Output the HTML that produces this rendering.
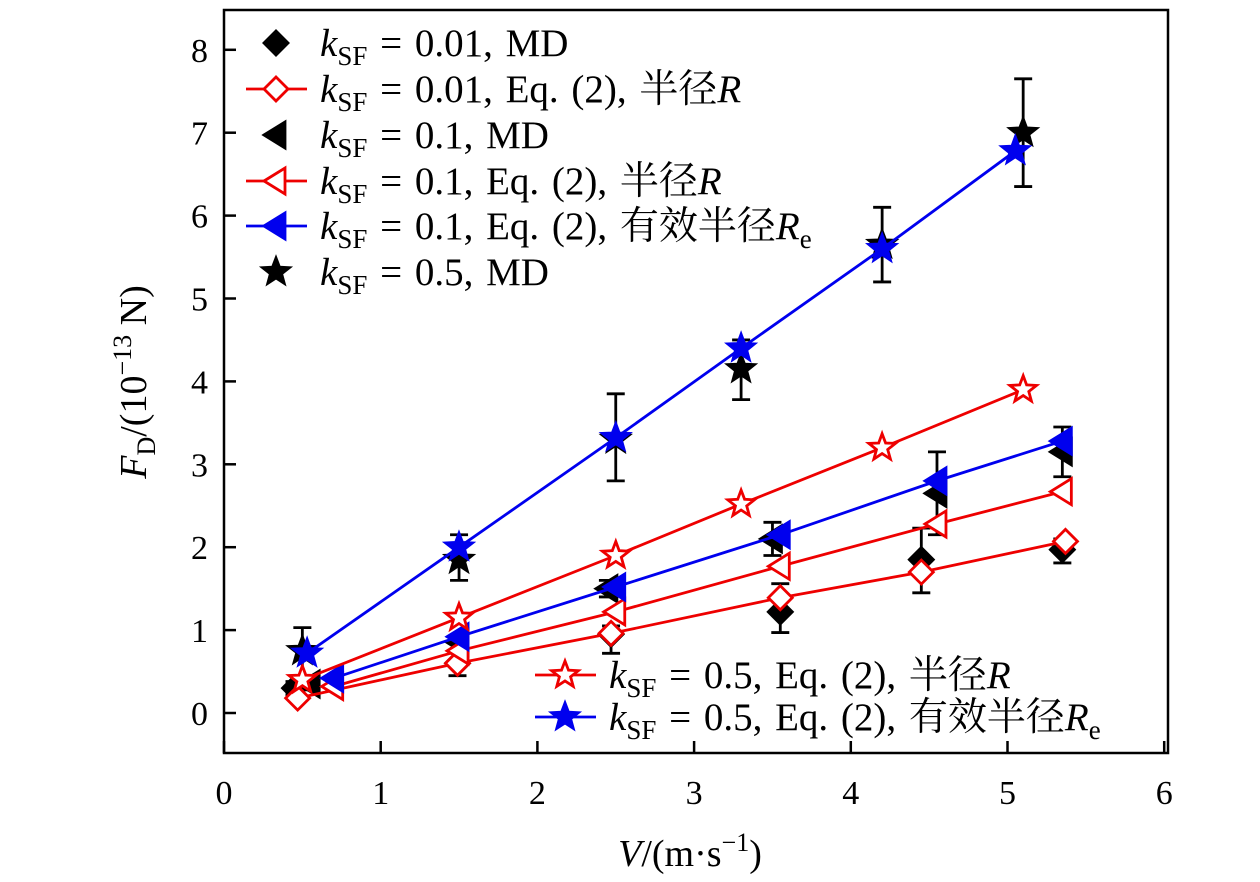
<!DOCTYPE html>
<html><head><meta charset="utf-8"><style>
body{margin:0;background:#fff;}
svg{display:block;}
text{font-family:"Liberation Serif","Noto Serif CJK SC",serif;fill:#000;}
</style></head><body>
<svg id="c" width="1260" height="882" xmlns="http://www.w3.org/2000/svg">
<rect x="224" y="10" width="944" height="743" fill="none" stroke="#000" stroke-width="2.5"/>
<g id="axes"></g>
<g id="marks"></g>
<g id="legend"></g>
<text x="690" y="866" font-size="38" text-anchor="middle"><tspan font-style="italic">V</tspan>/(m·s<tspan dy="-15" font-size="26">−1</tspan><tspan dy="15">)</tspan></text>
<text transform="translate(146,382) rotate(-90)" font-size="38" text-anchor="middle"><tspan font-style="italic">F</tspan><tspan dy="9" font-size="26">D</tspan><tspan dy="-9">/(10</tspan><tspan dy="-15" font-size="26">−13</tspan><tspan dy="15"> N)</tspan></text>
</svg>
<script>
const xTicks=[0,1,2,3,4,5,6];
const yTicks=[0,1,2,3,4,5,6,7,8];
// k=0.01
const x001=[0.45,1.49,2.47,3.55,4.45,5.35];
const md001=[0.30,0.60,0.95,1.22,1.85,1.97];
const md001Lo=[0.22,0.45,0.72,0.97,1.45,1.81];
const md001Hi=[0.38,0.75,1.05,1.56,2.23,2.10];
const eqX001=[0.47,1.49,2.47,3.55,4.45,5.37];
const eq001=[0.18,0.60,0.96,1.39,1.70,2.07];
// k=0.1
const x01=[0.55,1.50,2.45,3.50,4.55,5.35];
const md01=[0.35,0.85,1.50,2.10,2.65,3.15];
const md01Lo=[0.28,0.78,1.40,1.90,2.15,2.85];
const md01Hi=[0.42,0.92,1.60,2.30,3.15,3.45];
const eqX01=[0.70,1.50,2.50,3.55,4.55,5.35];
const eq01R=[0.32,0.75,1.22,1.77,2.28,2.67];
const eq01Re=[0.42,0.92,1.52,2.15,2.80,3.28];
// k=0.5
const x05=[0.50,1.50,2.50,3.30,4.20,5.10];
const md05=[0.75,1.85,3.30,4.15,5.65,7.00];
const md05Lo=[0.45,1.60,2.80,3.78,5.20,6.35];
const md05Hi=[1.03,2.15,3.85,4.50,6.10,7.65];
const eqX05=[0.50,1.50,2.50,3.30,4.20,5.10];
const eq05R=[0.40,1.15,1.90,2.52,3.20,3.90];
const eqX05e=[0.53,1.50,2.50,3.30,4.20,5.05];
const eq05Re=[0.72,2.00,3.32,4.40,5.60,6.78];

const NS='http://www.w3.org/2000/svg';
const sx=v=>224+156.7*v, sy=v=>713-82.9*v;
function mk(tag,attrs,parent){const e=document.createElementNS(NS,tag);for(const k in attrs)e.setAttribute(k,attrs[k]);parent.appendChild(e);return e;}
const axes=document.getElementById('axes'),marks=document.getElementById('marks'),leg=document.getElementById('legend');
xTicks.forEach(t=>{const x=sx(t);
 const l=mk('line',{x1:x,x2:x,y1:753,y2:741,stroke:'#000','stroke-width':2.5},axes);
 
 
 const tx=mk('text',{x:x,y:804,'font-size':34,'text-anchor':'middle'},axes);tx.textContent=t;
 
 });
yTicks.forEach(t=>{const y=sy(t);
 const l=mk('line',{x1:224,x2:236,y1:y,y2:y,stroke:'#000','stroke-width':2.5},axes);
 
 
 const tx=mk('text',{x:208,y:y+12,'font-size':34,'text-anchor':'end'},axes);tx.textContent=t;
 
 });

function starPts(cx,cy,R){let p=[];for(let i=0;i<10;i++){const r=i%2?R*0.42:R;const a=-Math.PI/2+i*Math.PI/5;p.push((cx+r*Math.cos(a)).toFixed(1)+','+(cy+r*Math.sin(a)).toFixed(1));}return p.join(' ');}
function marker(type,cx,cy,color,filled,parent,name){
 let e;const st={fill:filled?color:'#fff',stroke:color,'stroke-width':2.8};
 if(type==='d'){const s=12;e=mk('polygon',Object.assign({points:`${cx},${cy-s} ${cx+s},${cy} ${cx},${cy+s} ${cx-s},${cy}`},st),parent);}
 else if(type==='t'){e=mk('polygon',Object.assign({points:`${cx-12},${cy} ${cx+9},${cy-13} ${cx+9},${cy+13}`},st),parent);}
 else {e=mk('polygon',Object.assign({points:starPts(cx,cy,14)},st),parent);}
 
 
 return e;}
function errs(xs,lo,hi,name){xs.forEach((v,i)=>{const x=sx(v);
 const g=mk('g',{stroke:'#000','stroke-width':2.8},marks);
 
 
 mk('line',{x1:x,x2:x,y1:sy(lo[i]),y2:sy(hi[i])},g);
 mk('line',{x1:x-9,x2:x+9,y1:sy(lo[i]),y2:sy(lo[i])},g);
 mk('line',{x1:x-9,x2:x+9,y1:sy(hi[i]),y2:sy(hi[i])},g);});}
function line(xs,ys,color,name){const p=mk('polyline',{points:xs.map((v,i)=>sx(v)+','+sy(ys[i])).join(' '),fill:'none',stroke:color,'stroke-width':2.8},marks);
 
 }
function pts(xs,ys,type,color,filled,name){xs.forEach((v,i)=>marker(type,sx(v),sy(ys[i]),color,filled,marks,name));}

errs(x001,md001Lo,md001Hi,'error-bar-k001');
errs(x01,md01Lo,md01Hi,'error-bar-k01');
errs(x05,md05Lo,md05Hi,'error-bar-k05');
pts(x001,md001,'d','#000',true,'md-k001-point');
pts(x01,md01,'t','#000',true,'md-k01-point');
pts(x05,md05,'s','#000',true,'md-k05-point');
line(eqX001,eq001,'#e00','eq-k001-line');pts(eqX001,eq001,'d','#e00',false,'eq-k001-point');
line(eqX01,eq01R,'#e00','eq-k01-r-line');pts(eqX01,eq01R,'t','#e00',false,'eq-k01-r-point');
line(eqX01,eq01Re,'#00e','eq-k01-re-line');pts(eqX01,eq01Re,'t','#00e',true,'eq-k01-re-point');
line(eqX05,eq05R,'#e00','eq-k05-r-line');pts(eqX05,eq05R,'s','#e00',false,'eq-k05-r-point');
line(eqX05e,eq05Re,'#00e','eq-k05-re-line');pts(eqX05e,eq05Re,'s','#00e',true,'eq-k05-re-point');

function legRow(x0,y,type,color,filled,hasLine,label,name){
 const g=mk('g',{},leg);
 
 
 if(hasLine)mk('line',{x1:x0-30,x2:x0+31,y1:y,y2:y,stroke:color,'stroke-width':2.8},g);
 marker(type,x0,y,color,filled,g,name+'-marker');
 const t=mk('text',{x:x0+44,y:y+13,'font-size':39,'word-spacing':'3'},g);
 t.innerHTML='<tspan font-style="italic">k</tspan><tspan dy="9" font-size="27">SF</tspan><tspan dy="-9"> = '+label+'</tspan>';
}
legRow(276,43,'d','#000',true,false,'0.01, MD','legend-k001-md');
legRow(276,89,'d','#e00',false,true,'0.01, Eq. (2), 半径<tspan font-style="italic">R</tspan>','legend-k001-eq');
legRow(276,135,'t','#000',true,false,'0.1, MD','legend-k01-md');
legRow(276,181,'t','#e00',false,true,'0.1, Eq. (2), 半径<tspan font-style="italic">R</tspan>','legend-k01-eq-r');
legRow(276,226,'t','#00e',true,true,'0.1, Eq. (2), 有效半径<tspan font-style="italic">R</tspan><tspan dy="9" font-size="27">e</tspan>','legend-k01-eq-re');
legRow(276,272,'s','#000',true,false,'0.5, MD','legend-k05-md');
legRow(565,675,'s','#e00',false,true,'0.5, Eq. (2), 半径<tspan font-style="italic">R</tspan>','legend-k05-eq-r');
legRow(565,717,'s','#00e',true,true,'0.5, Eq. (2), 有效半径<tspan font-style="italic">R</tspan><tspan dy="9" font-size="27">e</tspan>','legend-k05-eq-re');
</script>
</body></html>
